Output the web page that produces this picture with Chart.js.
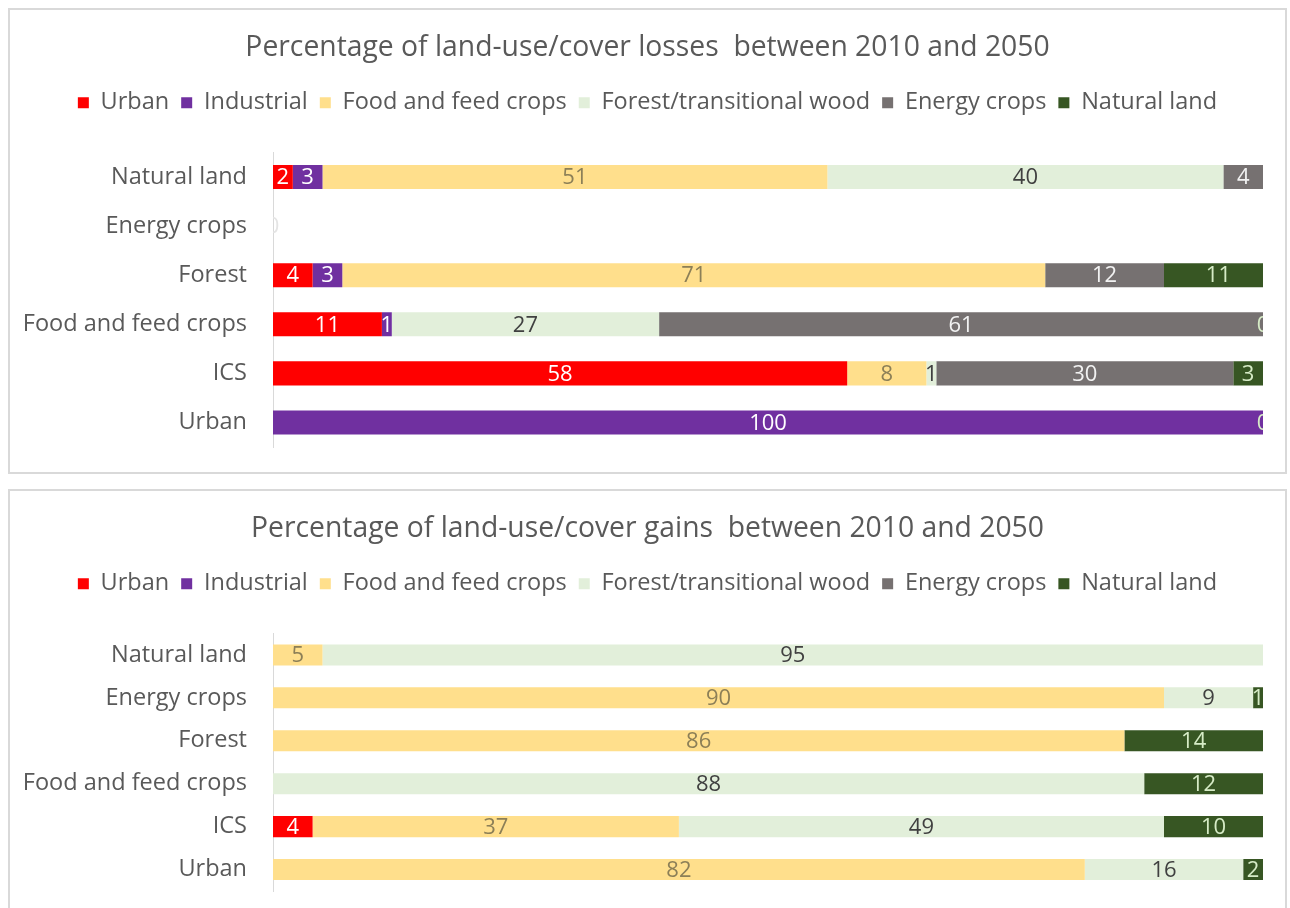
<!DOCTYPE html>
<html>
<head>
<meta charset="utf-8">
<script src="https://cdn.jsdelivr.net/npm/chart.js@4.4.1/dist/chart.umd.min.js"></script>
<style>
  html, body { margin: 0; padding: 0; background: #ffffff; width: 1290px; height: 908px; overflow: hidden; }
  .panel { position: absolute; left: 8px; width: 1275px; border: 2px solid #d9d9d9; background: #fff; }
  #lossPanel { top: 8px; height: 462px; }
  #gainPanel { top: 489px; height: 430px; }
  canvas { display: block; }
</style>
</head>
<body>
<div class="panel" id="lossPanel"><canvas id="lossChart" width="1275" height="462"></canvas></div>
<div class="panel" id="gainPanel"><canvas id="gainChart" width="1275" height="430"></canvas></div>
<script>
// Land-use/cover classes (rows, top to bottom) and the classes they turned into (stacked series)
const categories = ['Natural land', 'Energy crops', 'Forest', 'Food and feed crops', 'ICS', 'Urban'];
const seriesNames = ['Urban', 'Industrial', 'Food and feed crops', 'Forest/transitional wood', 'Energy crops', 'Natural land'];

// Losses between 2010 and 2050 (% of each row)
const lossUrban      = [2, null, 4, 11, 58, null];
const lossIndustrial = [3, null, 3, 1, null, 100];
const lossFood       = [51, null, 71, null, 8, null];
const lossForest     = [40, null, null, 27, 1, null];
const lossEnergy     = [4, null, 12, 61, 30, null];
const lossNatural    = [null, 0, 11, 0, 3, 0];

// Gains between 2010 and 2050 (% of each row)
const gainUrban      = [null, null, null, null, 4, null];
const gainIndustrial = [null, null, null, null, null, null];
const gainFood       = [5, 90, 86, null, 37, 82];
const gainForest     = [95, 9, null, 88, 49, 16];
const gainEnergy     = [null, null, null, null, null, null];
const gainNatural    = [null, 1, 14, 12, 10, 2];

const barColors   = ['#ff0000', '#7030a0', '#ffdf8c', '#e2efda', '#767171', '#375623'];
const labelColors = ['#ffffff', '#ffffff', '#8c7f57', '#404040', '#f2f2f2', '#d6ebc6'];
const FONT = '"Open Sans", Lato, sans-serif';

// Draws each segment's value centred on the segment, clipped to the plot area
const valueLabels = {
  id: 'valueLabels',
  afterDatasetsDraw(chart) {
    const ctx = chart.ctx;
    const area = chart.chartArea;
    ctx.save();
    ctx.beginPath();
    ctx.rect(area.left, area.top - 5, area.right - area.left, area.bottom - area.top + 10);
    ctx.clip();
    ctx.font = '22px ' + FONT;
    ctx.textAlign = 'center';
    ctx.textBaseline = 'middle';
    chart.data.datasets.forEach((ds, di) => {
      const meta = chart.getDatasetMeta(di);
      meta.data.forEach((bar, i) => {
        const v = ds.data[i];
        if (v === null || v === undefined) return;
        const cx = (bar.x + bar.base) / 2;
        ctx.fillStyle = v === 0 && i === 1 ? '#e4e4e4' : labelColors[di];
        ctx.fillText(String(v), cx, bar.y + 1);
      });
    });
    ctx.restore();
  }
};

// Adds extra room between the legend and the plot area
function legendGap(gap) {
  return {
    id: 'legendGap',
    beforeLayout(chart) {
      const lg = chart.legend;
      if (lg && !lg._gapPatched) {
        const fit = lg.fit;
        lg.fit = function () { fit.call(this); this.height += gap; };
        lg._gapPatched = true;
      }
    }
  };
}

function makeChart(id, title, series, bottomPad, gap) {
  return new Chart(document.getElementById(id), {
    type: 'bar',
    data: {
      labels: categories,
      datasets: series.map((d, k) => ({
        label: seriesNames[k],
        data: d,
        backgroundColor: barColors[k],
        borderWidth: 0,
        barPercentage: 0.49,
        categoryPercentage: 1
      }))
    },
    options: {
      indexAxis: 'y',
      responsive: false,
      animation: false,
      layout: { padding: { left: 0, right: 0, top: 0, bottom: bottomPad } },
      scales: {
        x: { stacked: true, min: 0, max: 100, display: false },
        y: {
          stacked: true,
          grid: { display: false },
          border: { display: true, color: '#d9d9d9', width: 1 },
          ticks: { color: '#595959', font: { family: FONT, size: 23.5 }, padding: 18 },
          afterFit: s => { s.width = 263; s.paddingTop = 0; s.paddingBottom = 0; }
        },
        // empty margin on the right of the plot area
        yRight: {
          type: 'category',
          position: 'right',
          display: true,
          grid: { display: false },
          border: { display: false },
          ticks: { display: false },
          afterFit: s => { s.width = 22; s.paddingTop = 0; s.paddingBottom = 0; }
        }
      },
      plugins: {
        title: {
          display: true,
          text: title,
          color: '#595959',
          font: { family: FONT, size: 28.3, weight: 'normal' },
          padding: { top: 21, bottom: 14 }
        },
        legend: {
          display: true,
          position: 'top',
          labels: {
            color: '#595959',
            font: { family: FONT, size: 23.5 },
            boxWidth: 11,
            boxHeight: 11,
            padding: 12
          }
        },
        tooltip: { enabled: false }
      }
    },
    plugins: [valueLabels, legendGap(gap)]
  });
}

makeChart('lossChart', 'Percentage of land-use/cover losses  between 2010 and 2050',
  [lossUrban, lossIndustrial, lossFood, lossForest, lossEnergy, lossNatural], 25, 28);
makeChart('gainChart', 'Percentage of land-use/cover gains  between 2010 and 2050',
  [gainUrban, gainIndustrial, gainFood, gainForest, gainEnergy, gainNatural], 30, 28);
</script>
</body>
</html>
